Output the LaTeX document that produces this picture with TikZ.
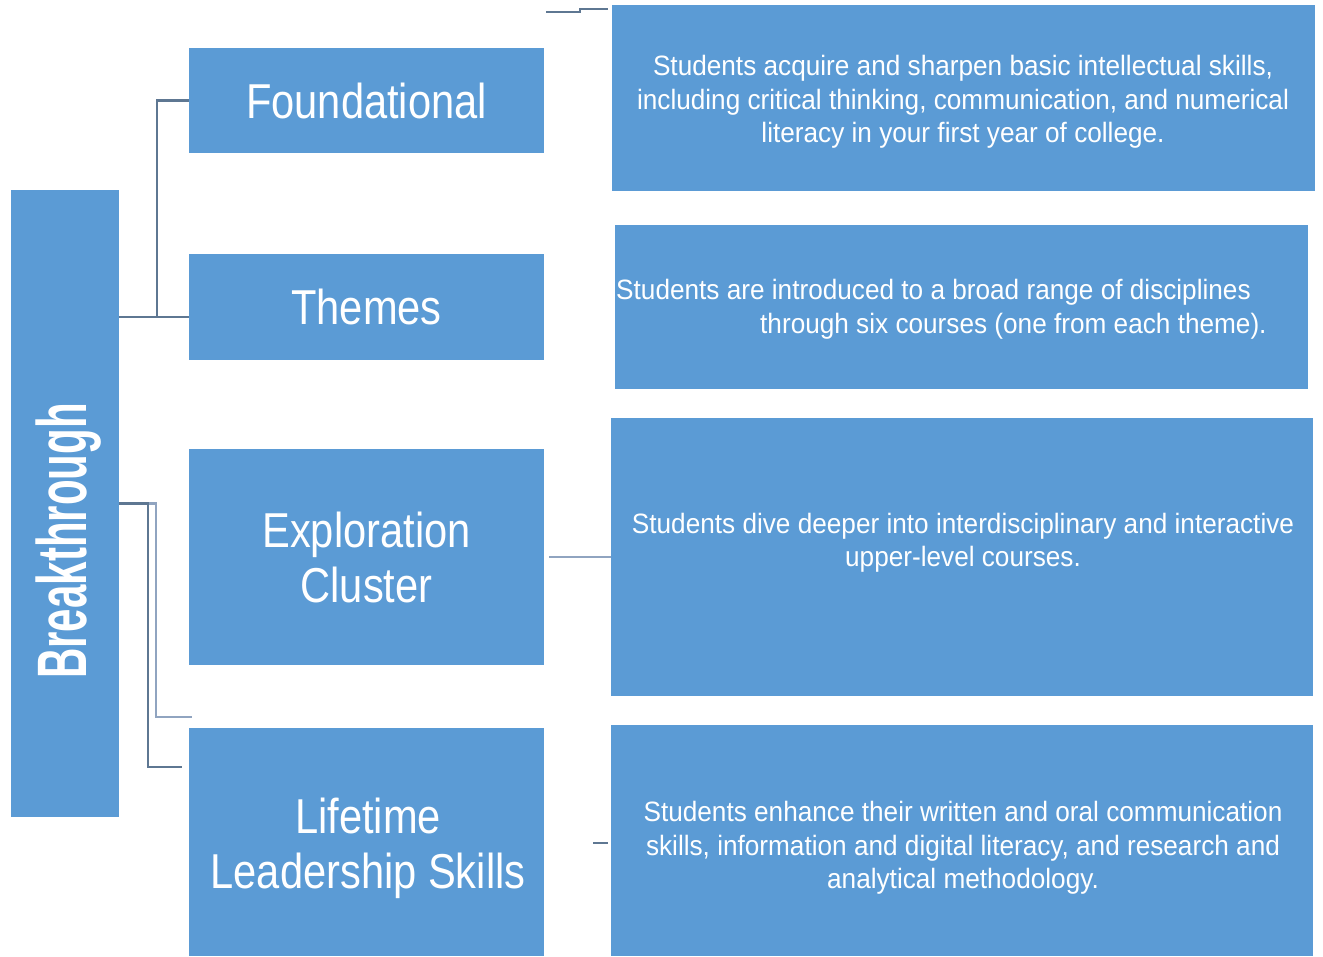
\documentclass[tikz,border=0pt]{standalone}
\usepackage{fontspec}
\setmainfont{Liberation Sans}[FakeStretch=0.85]
\newfontfamily\descfont{Liberation Sans}[FakeStretch=0.935]
\newfontfamily\brkfont{Liberation Sans}[FakeStretch=0.6]
\definecolor{boxblue}{HTML}{5B9BD5}
\definecolor{linedark}{HTML}{5E7792}
\definecolor{linelight}{HTML}{90A4C0}
\tikzset{
  box/.style={fill=boxblue, text=white, inner sep=0pt, align=center},
  title/.style={font=\fontsize{49}{55}\selectfont},
  desc/.style={text=white, inner sep=0pt, align=center, font=\descfont\fontsize{28}{33.5}\selectfont},
  conn/.style={linedark, line width=2.5pt},
  connlight/.style={linelight, line width=2.5pt}
}
\begin{document}
\begin{tikzpicture}[x=1pt, y=-1pt]

\useasboundingbox (0,0) rectangle (1323,957);

% left column
\node[box, minimum width=108, minimum height=627] (brk) at (65,503.5) {};
\node[text=white, rotate=90, inner sep=0pt, font=\brkfont\bfseries\fontsize{70}{70}\selectfont] (brktext) at (69,541) {Breakthrough};

% middle column
\node[box, title, minimum width=355, minimum height=105] (fnd) at (366.5,100.5) {Foundational};
\node[box, title, minimum width=355, minimum height=106] (thm) at (366.5,307) {Themes};
\node[box, title, minimum width=355, minimum height=216] (exp) at (366.5,557) {Exploration\\Cluster};
\node[box, minimum width=355, minimum height=228] (lls) at (366.5,842) {};
\node[title, text=white, align=center, inner sep=0pt] (llstext) at (368,848) {Lifetime\\Leadership Skills};

% right column
\node[box, minimum width=703, minimum height=186] (d1) at (963.5,98) {};
\node[desc] (d1text) at (963,102) {Students acquire and sharpen basic intellectual skills,\\including critical thinking, communication, and numerical\\literacy in your first year of college.};
\node[box, minimum width=693, minimum height=164] (d2) at (961.5,307) {};
\node[desc, anchor=west, align=left] (d2text) at (616,309.5) {Students are introduced to a broad range of disciplines\\\hspace*{144pt}through six courses (one from each theme).};
\node[box, minimum width=702, minimum height=278] (d3) at (962,557) {};
\node[desc] (d3text) at (963,543) {Students dive deeper into interdisciplinary and interactive\\upper-level courses.};
\node[box, minimum width=702, minimum height=231] (d4) at (962,840.5) {};
\node[desc] (d4text) at (963,848) {Students enhance their written and oral communication\\skills, information and digital literacy, and research and\\analytical methodology.};

% connectors
\coordinate (e1) at (192,717);
\coordinate (e2) at (182,767);
\coordinate (t1) at (546,12);
\coordinate (s1) at (593,843);

\draw[conn] ([yshift=-10]thm.west) -- ([yshift=-10]thm.west -| brk.east);
\draw[conn] (fnd.west) -- ++(-32,0) |- ([yshift=-10]thm.west);
\draw[connlight] (brk.east) -- ++(37,0) |- (e1);
\draw[conn] (brk.east) -- ++(29,0) |- (e2);
\draw[conn] (t1) -- ++(34,0) -- ++(0,-3) -- ++(28,0);
\draw[connlight] ([xshift=5]exp.east) -- (d3.west);
\draw[conn] (s1) -- ++(15,0);

\end{tikzpicture}
\end{document}
